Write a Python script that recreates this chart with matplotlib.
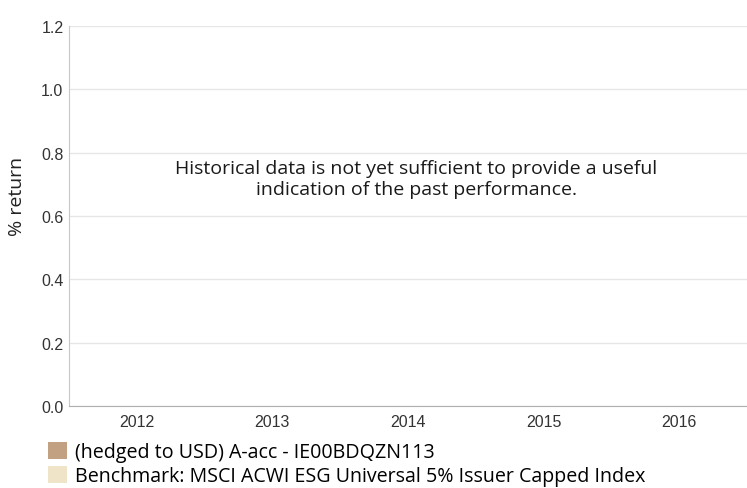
import numpy as np
import matplotlib.pyplot as plt
from matplotlib.patches import Patch

years = ['2012', '2013', '2014', '2015', '2016']
fund_values = [0, 0, 0, 0, 0]
bench_values = [0, 0, 0, 0, 0]
fund_label = '(hedged to USD) A-acc - IE00BDQZN113'
bench_label = 'Benchmark: MSCI ACWI ESG Universal 5% Issuer Capped Index'
note = 'Historical data is not yet sufficient to provide a useful\nindication of the past performance.'
y_ticks = [0.0, 0.2, 0.4, 0.6, 0.8, 1.0, 1.2]

fund_color = '#c1a182'
bench_color = '#efe3c8'

plt.rcParams['font.family'] = ['Liberation Sans', 'DejaVu Sans']
ui_font = ['Open Sans', 'DejaVu Sans']

fig = plt.figure(figsize=(7.47, 4.89), dpi=100)
ax = fig.add_axes([69/747, 1 - 407/489, 678/747, 380/489])

x = np.arange(len(years))
w = 0.35
ax.bar(x - w/2, fund_values, w, color=fund_color, linewidth=0)
ax.bar(x + w/2, bench_values, w, color=bench_color, linewidth=0)

ax.set_xlim(-0.5, len(years) - 0.5)
ax.set_ylim(0, 1.2)
ax.set_xticks(x)
ax.set_xticklabels(years, fontsize=11.5, color='#333333')
ax.set_yticks(y_ticks)
ax.set_yticklabels(['%.1f' % t for t in y_ticks], fontsize=11.5, color='#333333')
ax.tick_params(axis='x', length=0, pad=6)
ax.tick_params(axis='y', length=0, pad=4)

ax.grid(axis='y', color='#e6e6e6', linewidth=1)
ax.set_axisbelow(True)
for s in ['top', 'right']:
    ax.spines[s].set_visible(False)
ax.spines['left'].set_color('#c8c8c8')
ax.spines['bottom'].set_color('#b0b0b0')

ax.set_ylabel('% return', fontsize=14, color='#222222', family=ui_font)
ax.yaxis.set_label_coords(-43/678, 0.553)

ax.text(0.512, 0.598, note, transform=ax.transAxes, ha='center', va='center',
        fontsize=14, color='#1a1a1a', family=ui_font, linespacing=1.2)

handles = [Patch(facecolor=fund_color, label=fund_label),
           Patch(facecolor=bench_color, label=bench_label)]
fig.legend(handles=handles, loc='upper left', bbox_to_anchor=(48/747, 1 - 443/489),
           frameon=False, handlelength=0.97, handleheight=0.97,
           handletextpad=0.4, labelspacing=0.18, borderpad=0, borderaxespad=0,
           prop={'family': ui_font, 'size': 14.1})

fig.savefig('out.png', dpi=100)
